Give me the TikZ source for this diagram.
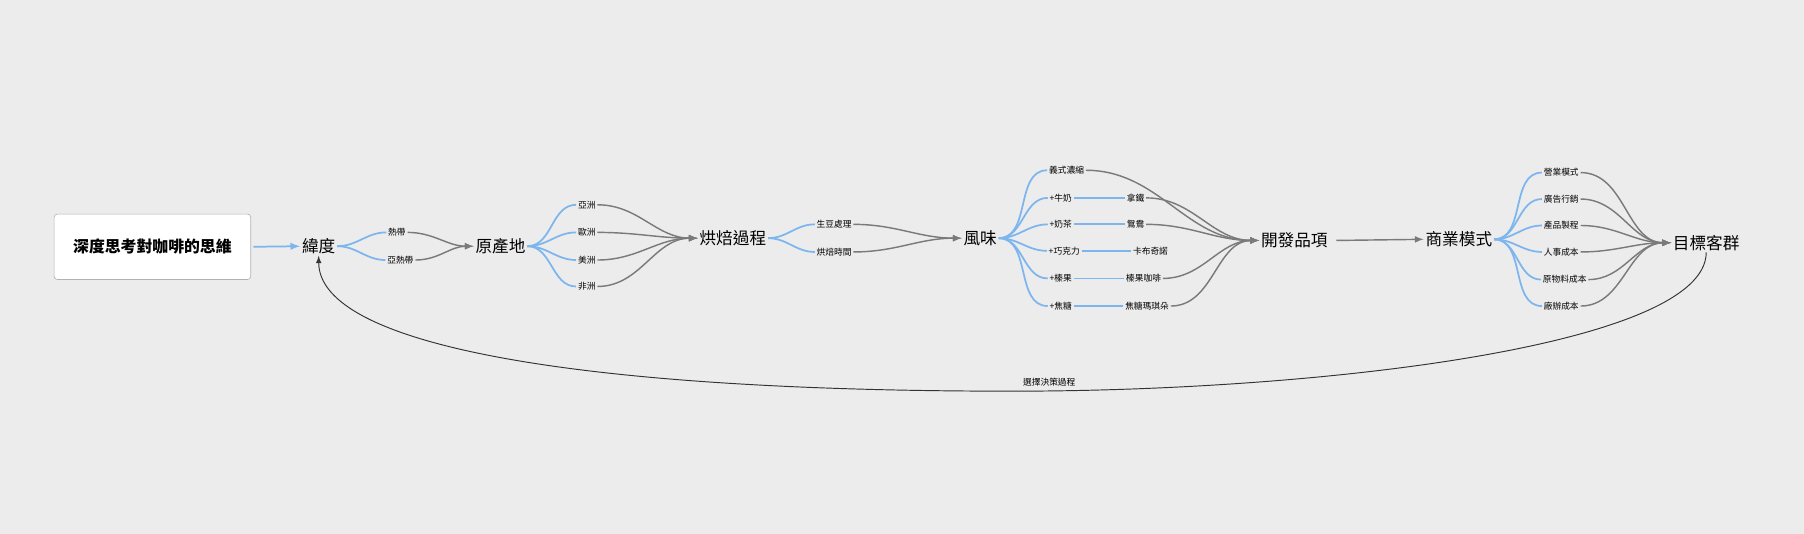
\documentclass[tikz,border=0pt]{standalone}
\usepackage{fontspec}
\newfontfamily\cjk{Noto Sans CJK TC}
\usetikzlibrary{positioning}
\definecolor{bgcol}{HTML}{ECECEC}
\definecolor{branch}{HTML}{7DB5EE}
\definecolor{link}{HTML}{7A7A7A}
\tikzset{
	topic/.style={inner sep=1pt, font=\cjk\fontsize{10.5}{12}\selectfont},
	sub/.style={inner sep=1pt, font=\cjk\fontsize{5.5}{6}\selectfont},
	br/.style={draw=branch, line width=1.1pt, out=0, in=180},
	ln/.style={draw=link, line width=0.9pt, out=0, in=180, -latex},
}
\begin{document}
\begin{tikzpicture}[x=0.02551cm, y=-0.02551cm]
		
		% ---------------------
		% Proper size --- Bounding box
		\fill[bgcol] (0,0) rectangle (1568,464);
		\useasboundingbox (0,0) rectangle (1568,464);
		
		% ---------------------
		% Root & main topics
		\node[draw=gray!60, fill=white, rounded corners=2pt, minimum width=4.36cm, minimum height=1.45cm,
			font=\cjk\bfseries\fontsize{10}{12}\selectfont] (Root) at (132.5,214.5) {深度思考對咖啡的思維};
		\node[topic] (Lat) at (277,214) {緯度};
		\node[topic] (Orig) at (435,214) {原產地};
		\node[topic] (Roast) at (637,207) {烘焙過程};
		\node[topic] (Flav) at (852,207) {風味};
		\node[topic] (Dev) at (1125,209) {開發品項};
		\node[topic] (Biz) at (1268,208) {商業模式};
		\node[topic] (Tgt) at (1483,211) {目標客群};
		
		% ---------------------
		% Sub topics
		\node[sub] (Tro) at (345,202) {熱帶};
		\node[sub] (Sub) at (348,226) {亞熱帶};
		
		\node[sub] (Asia) at (510,178) {亞洲};
		\node[sub] (Euro) at (510,202) {歐洲};
		\node[sub] (Amer) at (510,226) {美洲};
		\node[sub] (Afr) at (510,249) {非洲};
		
		\node[sub] (Raw) at (725,195) {生豆處理};
		\node[sub] (Time) at (725,219) {烘焙時間};
		
		\node[sub] (Esp) at (927,148) {義式濃縮};
		\node[sub] (Milk) at (922,172) {+牛奶};
		\node[sub] (Tea) at (922,195) {+奶茶};
		\node[sub] (Choc) at (925,218) {+巧克力};
		\node[sub] (Haz) at (922,242) {+榛果};
		\node[sub] (Car) at (922,266) {+焦糖};
		\node[sub] (Latte) at (987,172) {拿鐵};
		\node[sub] (Yuan) at (987,195) {鴛鴦};
		\node[sub] (Capp) at (1000,218) {卡布奇諾};
		\node[sub] (HazC) at (994,242) {榛果咖啡};
		\node[sub] (CarM) at (997,266) {焦糖瑪琪朵};
		
		\node[sub] (Op) at (1357,150) {營業模式};
		\node[sub] (Ad) at (1357,173) {廣告行銷};
		\node[sub] (Prod) at (1357,196) {產品製程};
		\node[sub] (Staff) at (1357,219) {人事成本};
		\node[sub] (Mat) at (1360,243) {原物料成本};
		\node[sub] (Fac) at (1357,266) {廠辦成本};
		
		\node[sub, fill=bgcol, draw=white!85!gray, inner sep=2pt] (Dec) at (912,332) {選擇決策過程};
		
		% ---------------------
		% Branches
		\draw[branch, line width=1.1pt, -latex] (Root.east) ++(2,0) -- (Lat.west);
		\foreach \c in {Tro,Sub} \draw[br] (Lat.east) to (\c.west);
		\foreach \c in {Asia,Euro,Amer,Afr} \draw[br] (Orig.east) to (\c.west);
		\foreach \c in {Raw,Time} \draw[br] (Roast.east) to (\c.west);
		\foreach \c in {Esp,Milk,Tea,Choc,Haz,Car} \draw[br] (Flav.east) to (\c.west);
		\draw[br] (Milk.east) -- (Latte.west);
		\draw[br] (Tea.east) -- (Yuan.west);
		\draw[br] (Choc.east) -- (Capp.west);
		\draw[br] (Haz.east) -- (HazC.west);
		\draw[br] (Car.east) -- (CarM.west);
		\foreach \c in {Op,Ad,Prod,Staff,Mat,Fac} \draw[br] (Biz.east) to (\c.west);
		
		% ---------------------
		% Links
		\foreach \c in {Tro,Sub} \draw[ln] (\c.east) to (Orig.west);
		\foreach \c in {Asia,Euro,Amer,Afr} \draw[ln] (\c.east) to (Roast.west);
		\foreach \c in {Raw,Time} \draw[ln] (\c.east) to (Flav.west);
		\foreach \c in {Esp,Latte,Yuan,HazC,CarM} \draw[ln] (\c.east) to (Dev.west);
		\draw[ln] (Dev.east) ++(6,0) -- (Biz.west);
		\foreach \c in {Op,Ad,Prod,Staff,Mat,Fac} \draw[ln] (\c.east) to (Tgt.west);
		
		\draw[black!80, line width=0.6pt, -latex] (Tgt.south)
			.. controls (1483,300) and (1150,340) .. (880,340)
			.. controls (500,340) and (277,300) .. (Lat.south);
		
\end{tikzpicture}
\end{document}
